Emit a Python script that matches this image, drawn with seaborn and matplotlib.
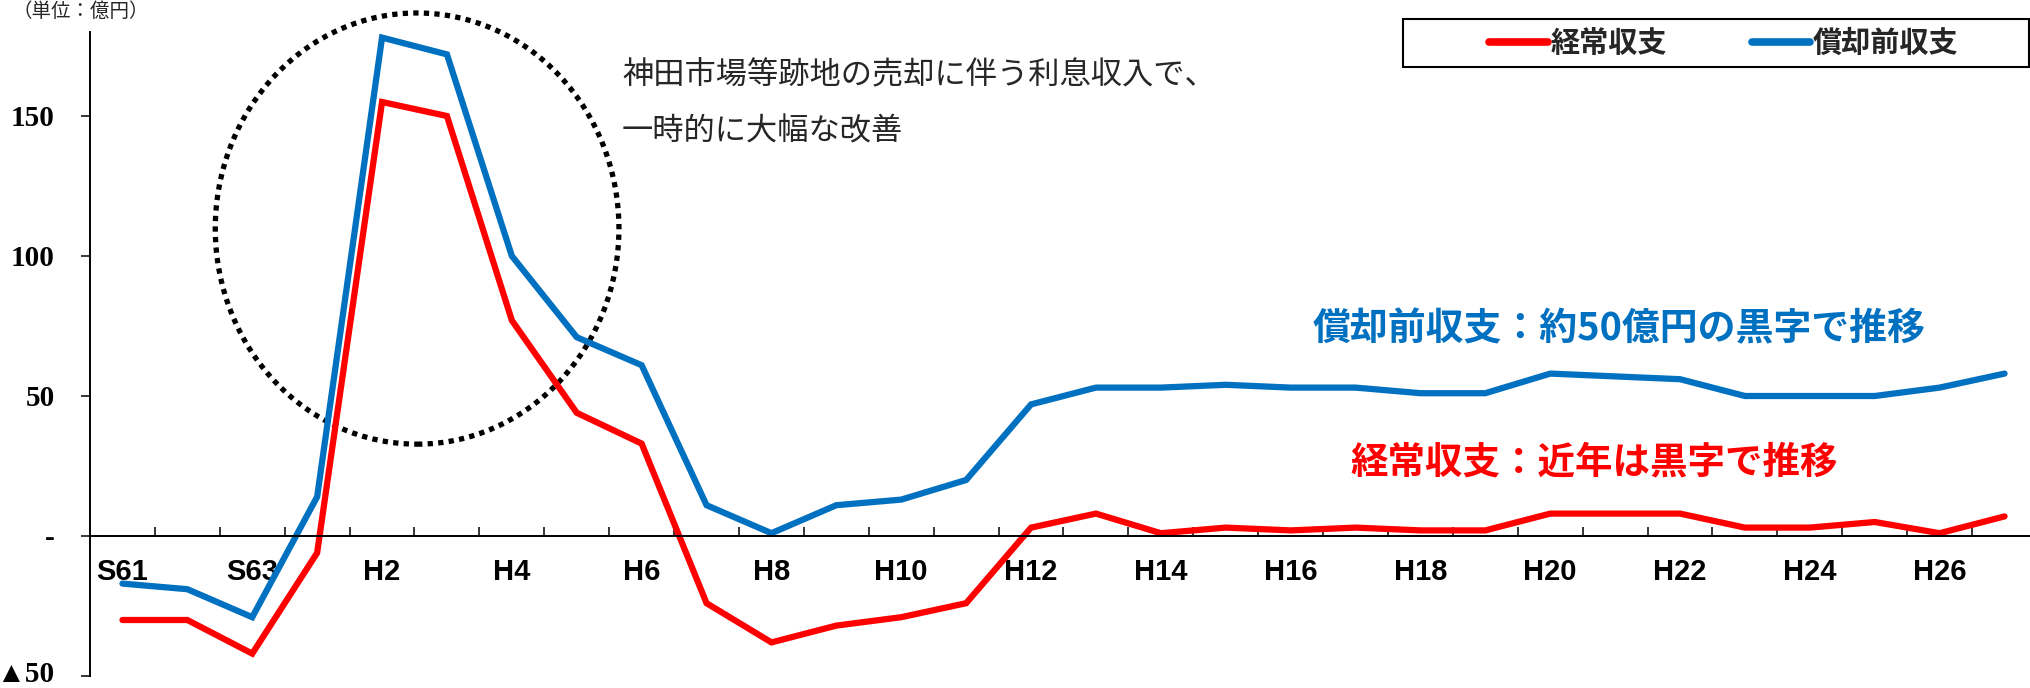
import numpy as np
import pandas as pd
import matplotlib
matplotlib.use("Agg")
import matplotlib.pyplot as plt
import seaborn as sns
from matplotlib.patches import Ellipse, Rectangle
from matplotlib.lines import Line2D
from matplotlib.transforms import ScaledTranslation

# ---- data ----
years = ["S61", "S62", "S63"] + [f"H{i}" for i in range(1, 28)]
keijo = [-30, -30, -42, -6, 155, 150, 77, 44, 33, -24, -38, -32, -29, -24, 3, 8,
         1, 3, 2, 3, 2, 2, 8, 8, 8, 3, 3, 5, 1, 7]
shokyaku = [-17, -19, -29, 14, 178, 172, 100, 71, 61, 11, 1, 11, 13, 20, 47, 53,
            53, 54, 53, 53, 51, 51, 58, 57, 56, 50, 50, 50, 53, 58]
series_names = ["経常収支", "償却前収支"]
series_colors = ["#FF0000", "#0070C0"]
ytick_vals = [-50, 0, 50, 100, 150]
ytick_labels = ["▲50", "-", "50", "100", "150"]
unit_label = "（単位：億円）"
note_lines = ["神田市場等跡地の売却に伴う利息収入で、", "一時的に大幅な改善"]
blue_note = "償却前収支：約50億円の黒字で推移"
red_note = "経常収支：近年は黒字で推移"

df = pd.DataFrame({"idx": np.arange(len(years)), "year": years,
                   series_names[0]: keijo, series_names[1]: shokyaku})

sns.set_theme(style="white")
CJK = ["Noto Sans CJK JP", "DejaVu Sans"]
plt.rcParams["font.family"] = CJK

W, H = 2031, 688
def fx(px): return px / W
def fy(py): return 1 - py / H

fig = plt.figure(figsize=(W / 100, H / 100), dpi=100)
ax = fig.add_axes([fx(90), fy(676), (2037 - 90) / W, (676 - 32) / H])

sns.lineplot(data=df, x="idx", y=series_names[1], ax=ax, color=series_colors[1],
             linewidth=4.5, solid_capstyle="round", solid_joinstyle="miter")
sns.lineplot(data=df, x="idx", y=series_names[0], ax=ax, color=series_colors[0],
             linewidth=4.5, solid_capstyle="round", solid_joinstyle="miter")

ax.set_xlim(-0.5, len(years) - 0.5)
ax.set_ylim(-50, 180)
ax.set_xlabel("")
ax.set_ylabel("")

# spines
for s in ["top", "right"]:
    ax.spines[s].set_visible(False)
ax.spines["bottom"].set_position(("data", 0))
for s in ["bottom", "left"]:
    ax.spines[s].set_linewidth(1.4)
    ax.spines[s].set_color("black")

# x ticks
major = list(range(0, len(years), 2))
ax.set_xticks(major)
ax.set_xticklabels([years[i] for i in major])
ax.set_xticks(np.arange(0.5, len(years), 1), minor=True)
ax.tick_params(axis="x", which="major", length=0, pad=16)
ax.tick_params(axis="x", which="minor", direction="in", length=6.5, width=1.1,
               color="black", bottom=True)
for lab in ax.get_xticklabels():
    lab.set_family(["Liberation Sans Narrow", "Liberation Sans", "DejaVu Sans"])
    lab.set_fontweight("bold")
    lab.set_fontsize(21)
    lab.set_color("black")

# y ticks
ax.set_yticks(ytick_vals)
ax.set_yticklabels(ytick_labels)
ax.tick_params(axis="y", direction="out", length=6.5, width=1.1, color="black",
               pad=19, left=True)
ylabs = ax.get_yticklabels()
for lab in ylabs:
    lab.set_family(["Liberation Serif", "DejaVu Serif", "DejaVu Sans"])
    lab.set_fontweight("bold")
    lab.set_fontsize(21)
    lab.set_color("black")
ylabs[0].set_transform(ylabs[0].get_transform() +
                       ScaledTranslation(0, 4 / 100, fig.dpi_scale_trans))

ax.grid(False)

# dotted ellipse
ell = Ellipse((4.54, 109.8), 6.22, 154, fill=False, edgecolor="black",
              linewidth=3.8, linestyle=(0, (1, 1.0)), clip_on=False)
ax.add_patch(ell)

# texts
fig.text(fx(13), fy(1), unit_label, fontsize=14, ha="left", va="top",
         family=CJK)
fig.text(fx(622), fy(74), note_lines[0], fontsize=22.5, ha="left", va="center",
         family=CJK)
fig.text(fx(622), fy(131), note_lines[1], fontsize=22.5, ha="left", va="center",
         family=CJK)
fig.text(fx(1313), fy(329), blue_note, fontsize=27.3, fontweight="bold",
         color=series_colors[1], ha="left", va="center", family=CJK)
fig.text(fx(1350), fy(462), red_note, fontsize=27, fontweight="bold",
         color=series_colors[0], ha="left", va="center", family=CJK)

# legend box + legend
rect = Rectangle((fx(1403), fy(67)), fx(2029) - fx(1403), fy(19) - fy(67),
                 transform=fig.transFigure, fill=False, edgecolor="black",
                 linewidth=1.5)
fig.add_artist(rect)
handles = [Line2D([0], [0], color=series_colors[0], lw=5.5, solid_capstyle="round"),
           Line2D([0], [0], color=series_colors[1], lw=5.5, solid_capstyle="round")]
fig.legend(handles, series_names, loc="center",
           bbox_to_anchor=(fx(1724), fy(43)), ncol=2, frameon=False,
           handlelength=2.0, handletextpad=0.1, columnspacing=2.9,
           prop={"family": CJK, "weight": "bold", "size": 21})

fig.savefig("out.png", dpi=100)
